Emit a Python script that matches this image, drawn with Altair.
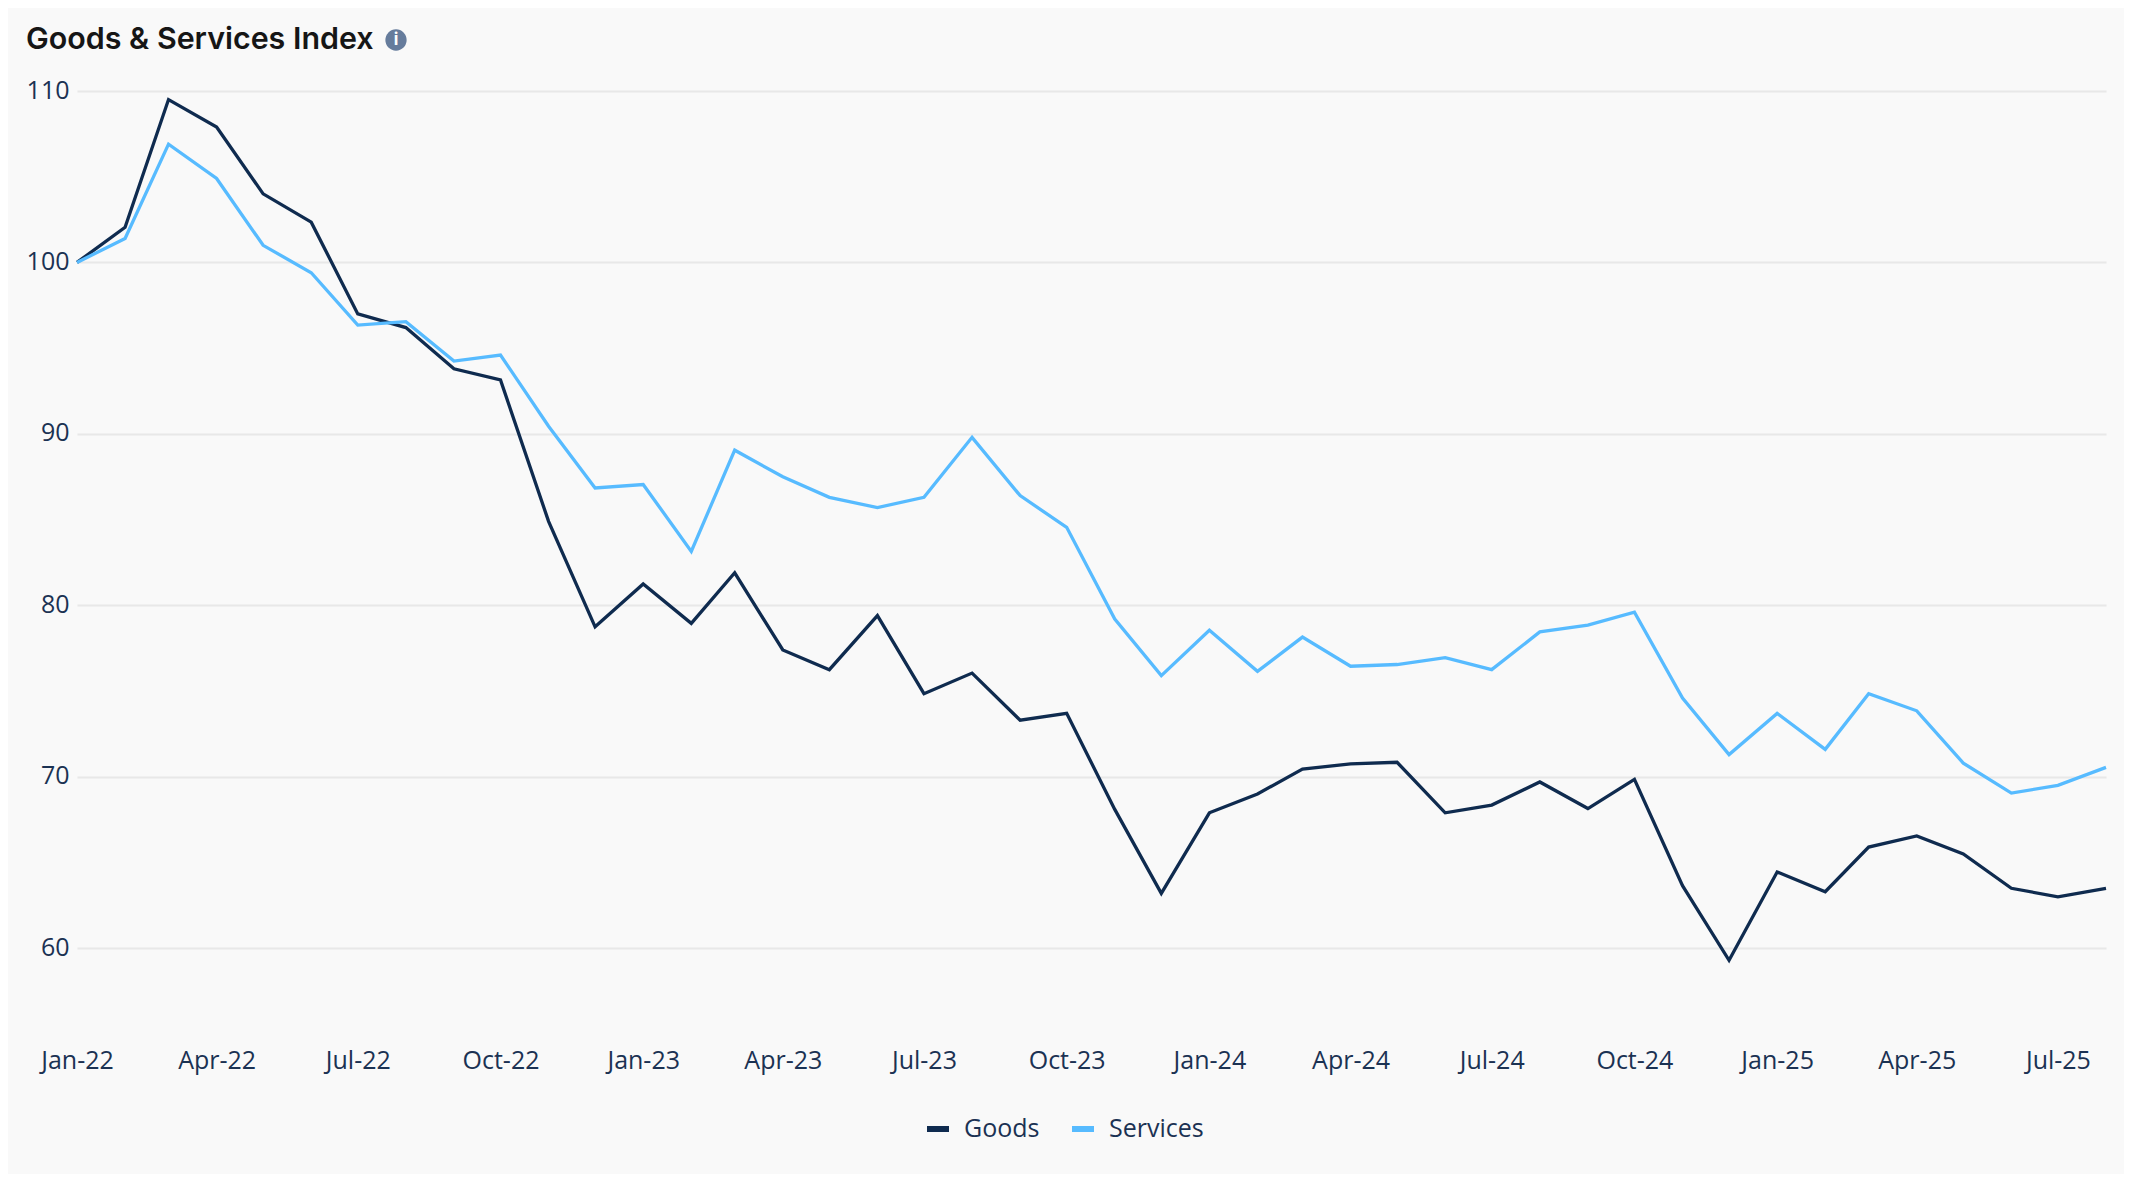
import altair as alt
import pandas as pd

months = pd.date_range("2022-01-01", "2025-08-01", freq="MS").strftime("%Y-%m-%d").tolist()
goods = [100, 102.05, 109.5, 107.9, 104.0, 102.35, 97.0, 96.2, 93.8, 93.15, 84.9, 78.75,
         81.25, 78.95, 81.9, 77.4, 76.25, 79.4, 74.85, 76.05, 73.3, 73.7, 68.1, 63.2,
         67.9, 69.0, 70.45, 70.75, 70.85, 67.9, 68.35, 69.7, 68.15, 69.85, 63.65, 59.3,
         64.45, 63.3, 65.9, 66.55, 65.5, 63.5, 63.0, 63.5]
services = [100, 101.4, 106.9, 104.9, 101.0, 99.4, 96.35, 96.55, 94.25, 94.6, 90.45, 86.85,
            87.05, 83.15, 89.05, 87.5, 86.3, 85.7, 86.3, 89.8, 86.4, 84.55, 79.2, 75.9,
            78.55, 76.15, 78.15, 76.45, 76.55, 76.95, 76.25, 78.45, 78.85, 79.6, 74.6, 71.3,
            73.7, 71.6, 74.85, 73.85, 70.8, 69.05, 69.5, 70.55]
series_names = ["Goods", "Services"]
series_colors = ["#0F2B4F", "#57BBFF"]
y_ticks = [60, 70, 80, 90, 100, 110]
x_tick_years = [2022, 2023, 2024, 2025]
x_tick_months = [1, 4, 7, 10]

df = pd.concat([
    pd.DataFrame({"date": months, "value": goods, "series": "Goods", "order": 0}),
    pd.DataFrame({"date": months, "value": services, "series": "Services", "order": 1}),
])
tick_values = [alt.DateTime(year=y, month=m, date=1, utc=True)
               for y in x_tick_years for m in x_tick_months
               if not (y == 2025 and m == 10)]

TEXT = "#1B3253"
FONT = "Open Sans"

lines = alt.Chart(df).mark_line(strokeWidth=3.3, strokeJoin="miter").encode(
    x=alt.X("date:T", title=None,
            scale=alt.Scale(type="utc", domain=[alt.DateTime(year=2022, month=1, date=1, utc=True),
                                                alt.DateTime(year=2025, month=8, date=1, utc=True)]),
            axis=alt.Axis(values=tick_values, labelExpr="utcFormat(datum.value, '%b-%y')", grid=False,
                          domain=False, ticks=False, labelFont=FONT, labelFontSize=25,
                          labelColor=TEXT, labelPadding=14, labelOverlap=False,
                          labelBound=False, labelFlush=False)),
    y=alt.Y("value:Q", title=None,
            scale=alt.Scale(domain=[55, 110], nice=False, zero=False),
            axis=alt.Axis(values=y_ticks, grid=True, gridColor="#E8E8E8", gridWidth=2,
                          domain=False, ticks=False, labelFont=FONT, labelFontSize=25,
                          labelColor=TEXT, labelPadding=8, labelOffset=-1)),
    color=alt.Color("series:N", title=None,
                    scale=alt.Scale(domain=series_names, range=series_colors),
                    legend=alt.Legend(orient="none", legendX=847, legendY=1024, direction="horizontal",
                                      symbolType="stroke", symbolSize=484, symbolStrokeWidth=6,
                                      labelFont=FONT, labelFontSize=25, labelColor=TEXT,
                                      labelOffset=12, columnPadding=20, padding=0)),
    order="order:Q",
    detail="series:N",
)

icon = alt.Chart(pd.DataFrame({"i": ["i"]})).mark_circle(size=452, color="#667C9C", opacity=1).encode(
    x=alt.value(319), y=alt.value(-51))
icon_text = alt.Chart(pd.DataFrame({"i": ["i"]})).mark_text(
    font="Inter", fontSize=17, fontWeight=700, color="#FFFFFF", baseline="middle", align="center"
).encode(x=alt.value(319), y=alt.value(-51), text="i:N")

chart = alt.layer(lines, icon, icon_text).properties(
    width=2029, height=943,
    title=alt.TitleParams("Goods & Services Index", font="Inter", fontSize=30.4, fontWeight=600,
                          color="#161616", anchor="start", frame="group", baseline="alphabetic",
                          offset=-50, dx=-51),
    background="#F9F9F9",
    padding={"left": 69, "top": 83, "right": 18, "bottom": 140},
    autosize=alt.AutoSizeParams(type="none"),
).configure_view(stroke=None)

chart.save("out.html", embed_options={"renderer": "svg", "actions": False})
